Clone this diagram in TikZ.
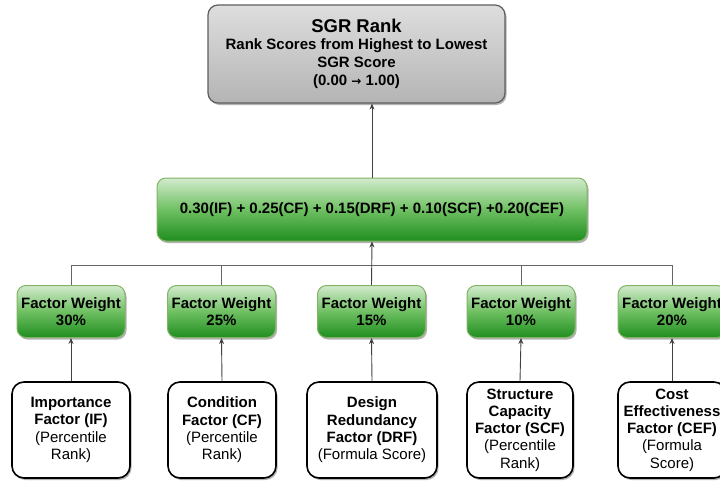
\documentclass[tikz,border=0pt]{standalone}
\usepackage{fontspec}
\setmainfont{Liberation Sans}
\newfontfamily\symfont{DejaVu Sans}
\usetikzlibrary{shadows,arrows.meta}
\definecolor{greenedge}{HTML}{82B366}
\definecolor{greentop}{HTML}{D2EBCD}
\definecolor{greenmid}{HTML}{6FC062}
\definecolor{greenbot}{HTML}{1F8E1F}
\definecolor{graytop}{HTML}{DEDEDE}
\definecolor{graybot}{HTML}{B4B4B4}
\definecolor{grayedge}{HTML}{5E5E5E}
\definecolor{linkgray}{HTML}{666666}
\begin{document}
\begin{tikzpicture}[x=1pt,y=-1pt,
  softshadow/.style={drop shadow={shadow xshift=1.5pt,shadow yshift=-2pt,opacity=0.3,fill=black}},
  rankbox/.style={softshadow,draw=grayedge,line width=1.2pt,rounded corners=10pt,
    top color=graytop,bottom color=graybot,align=center,inner sep=0pt,
    font=\bfseries\fontsize{15}{18}\selectfont},
  greenbox/.style={softshadow,draw=greenedge,line width=1pt,rounded corners=9pt,
    top color=greentop,bottom color=greenbot,middle color=greenmid,
    align=center,inner sep=0pt,font=\bfseries\fontsize{15}{17.5}\selectfont},
  weightbox/.style={greenbox,minimum width=108pt,minimum height=52pt},
  factorbox/.style={softshadow,draw=black,fill=white,line width=1.6pt,rounded corners=12pt,
    align=center,inner sep=0pt,minimum height=96pt,
    font=\fontsize{15}{17.3}\selectfont},
  link/.style={draw=linkgray,line width=0.8pt},
  feed/.style={draw=black!75,line width=0.9pt,-{Stealth[length=6pt,width=5pt]}}
]
\useasboundingbox (0,0) rectangle (720,482);

% overall rank
\node[rankbox,minimum width=297pt,minimum height=98pt] (rank) at (356.5,54)
  {{\fontsize{18.5}{20}\selectfont SGR Rank}\\[-1pt]
   Rank Scores from Highest to Lowest\\
   SGR Score\\
   (0.00 {\symfont\bfseries\fontsize{12}{14}\selectfont →} 1.00)};

% weighted sum
\node[greenbox,minimum width=430pt,minimum height=63pt] (sum) at (372,209.5)
  {0.30(IF) + 0.25(CF) + 0.15(DRF) + 0.10(SCF) +0.20(CEF)};

% factor weights
\node[weightbox] (w1) at (71,311.5)  {Factor Weight\\30\%};
\node[weightbox] (w2) at (221.5,311.5) {Factor Weight\\25\%};
\node[weightbox] (w3) at (371.5,311.5) {Factor Weight\\15\%};
\node[weightbox] (w4) at (521,311.5) {Factor Weight\\10\%};
\node[weightbox] (w5) at (672,311.5) {Factor Weight\\20\%};

% input factors
\node[factorbox,minimum width=118pt] (f1) at (71,430)
  {\textbf{Importance}\\\textbf{Factor (IF)}\\(Percentile\\Rank)};
\node[factorbox,minimum width=108pt] (f2) at (222,430)
  {\textbf{Condition}\\\textbf{Factor (CF)}\\(Percentile\\Rank)};
\node[factorbox,minimum width=130pt] (f3) at (372,430)
  {\textbf{Design}\\\textbf{Redundancy}\\\textbf{Factor (DRF)}\\(Formula Score)};
\node[factorbox,minimum width=106pt] (f4) at (520,430)
  {\textbf{Structure}\\\textbf{Capacity}\\\textbf{Factor (SCF)}\\(Percentile\\Rank)};
\node[factorbox,minimum width=108pt] (f5) at (672,430)
  {\textbf{Cost}\\\textbf{Effectiveness}\\\textbf{Factor (CEF)}\\(Formula\\Score)};

% bus joining the weights
\coordinate (bus) at (0,265);
\draw[link] (w1.north) -- (w1.north |- bus) -- (w5.north |- bus) -- (w5.north);
\draw[link] (w2.north) -- (w2.north |- bus);
\draw[link] (w4.north) -- (w4.north |- bus);
\draw[feed] (w3.north) -- (sum.south);

% sum to rank
\draw[feed] (sum.north) -- (sum.north |- rank.south);

% factors to weights
\foreach \i in {1,...,5} \draw[feed] (f\i.north) -- (w\i.south);
\end{tikzpicture}
\end{document}
